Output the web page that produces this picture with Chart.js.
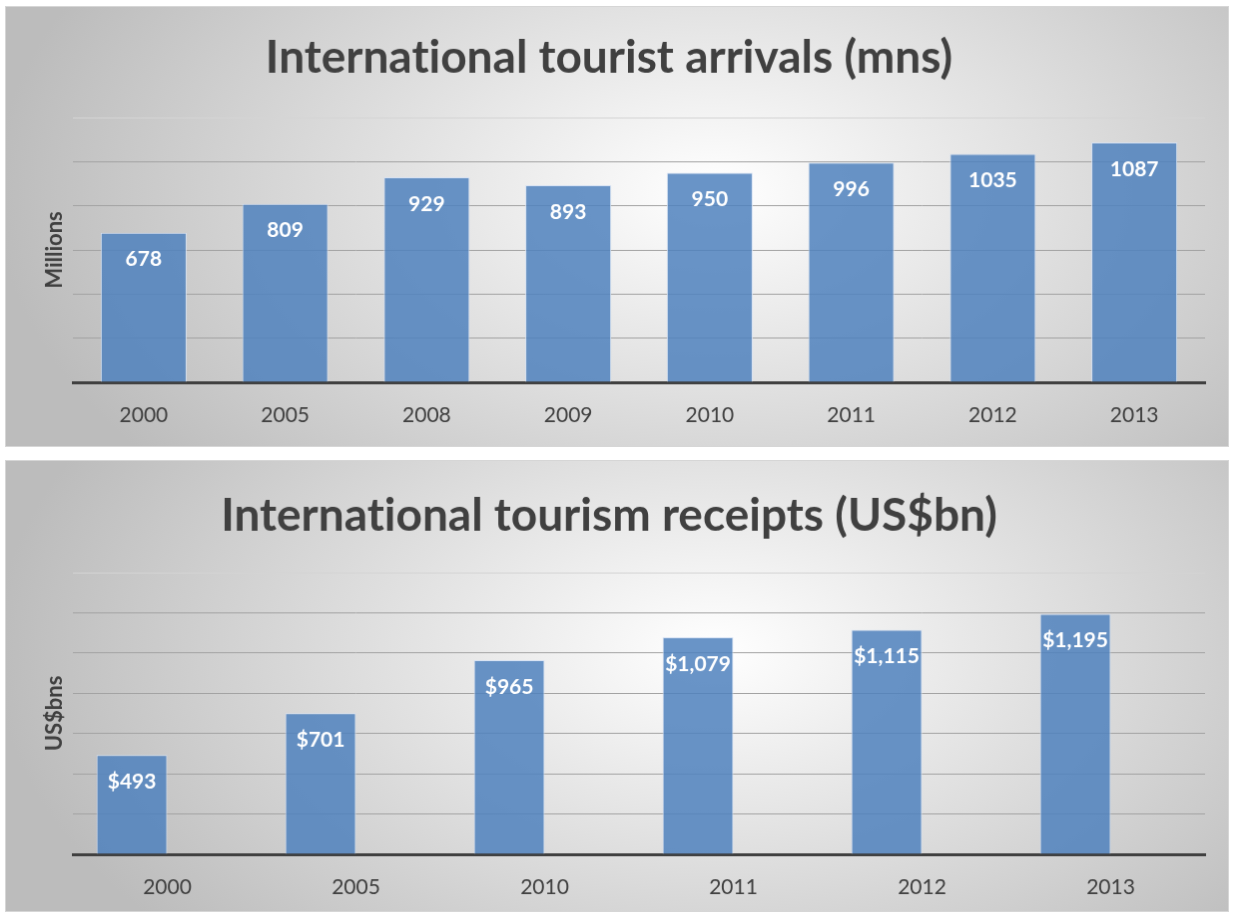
<!DOCTYPE html>
<html>
<head>
<meta charset="utf-8">
<script src="https://cdn.jsdelivr.net/npm/chart.js@4.4.0/dist/chart.umd.min.js"></script>
<style>
  body { margin: 0; background: #fff; width: 1233px; height: 913px; position: relative; overflow: hidden; }
  canvas {
    position: absolute; left: 5px; display: block;
    border: 1px solid #d6d6d6;
    background: radial-gradient(ellipse 720px 430px at 58% 42%, #ffffff 0%, #bcbcbc 100%);
  }
  #arrivalsChart { top: 6px; }
  #receiptsChart { top: 460px; }
</style>
</head>
<body>
<canvas id="arrivalsChart" width="1224" height="441"></canvas>
<canvas id="receiptsChart" width="1224" height="452"></canvas>
<script>
  // arrivals, millions
  const arrivalYears = ["2000", "2005", "2008", "2009", "2010", "2011", "2012", "2013"];
  const arrivals = [678, 809, 929, 893, 950, 996, 1035, 1087];

  // receipts, US$ bn (second series is empty in the original, it only shifts the bars)
  const receiptYears = ["2000", "2005", "2010", "2011", "2012", "2013"];
  const receipts = [493, 701, 965, 1079, 1115, 1195];
  const receiptsBlank = [null, null, null, null, null, null];

  const arrivalsMax = 1200;
  const receiptsMax = 1400;
  const gridStep = 200;

  Chart.defaults.font.family = "Lato, 'Open Sans', sans-serif";
  Chart.defaults.color = "#404040";

  const barFill = "rgba(79,129,189,0.85)";
  const barEdge = "rgba(214,226,243,0.95)";

  // white value labels just inside the top of each bar
  function valueLabels(fmt) {
    return {
      id: "valueLabels",
      afterDatasetsDraw(chart) {
        const ctx = chart.ctx;
        const meta = chart.getDatasetMeta(0);
        const values = chart.data.datasets[0].data;
        ctx.save();
        ctx.font = "bold 21px Lato, 'Open Sans', sans-serif";
        ctx.fillStyle = "#ffffff";
        ctx.textAlign = "center";
        ctx.textBaseline = "middle";
        meta.data.forEach((bar, i) => {
          ctx.fillText(fmt(values[i]), bar.x, bar.y + 27);
        });
        ctx.restore();
      },
    };
  }

  function yAxis(max, title) {
    return {
      min: 0,
      max: max,
      ticks: { display: false, stepSize: gridStep },
      border: { display: false },
      grid: {
        drawTicks: false,
        lineWidth: 1,
        color: (c) => (c.tick && c.tick.value === max ? "#d4d4d4" : "#a3a3a3"),
      },
      title: {
        display: true,
        text: title,
        color: "#404040",
        font: { size: 22, weight: "bold" },
        padding: { top: 29, bottom: 0 },
      },
      afterFit(scale) {
        scale.width = 60;
      },
    };
  }

  const xAxis = {
    grid: { display: false, drawTicks: false },
    border: { display: true, color: "#404040", width: 3 },
    ticks: { color: "#404040", font: { size: 21 }, padding: 21 },
    afterFit(scale) {
      scale.height = 46;
    },
  };

  // \u200C keeps Lato from joining "ti" into a ligature
  const arrivalsTitle = "Internat\u200Cional tourist arrivals (mns)";
  const receiptsTitle = "Internat\u200Cional tourism receipts (US$bn)";

  const arrivalsChart = new Chart(document.getElementById("arrivalsChart").getContext("2d"), {
    type: "bar",
    data: {
      labels: arrivalYears,
      datasets: [
        {
          label: "Arrivals",
          data: arrivals,
          backgroundColor: barFill,
          borderColor: barEdge,
          borderWidth: 1,
          categoryPercentage: 0.607,
          barPercentage: 1,
        },
      ],
    },
    options: {
      responsive: false,
      animation: false,
      layout: { padding: { left: 7, right: 23, top: 0, bottom: 18 } },
      plugins: {
        legend: { display: false },
        tooltip: { enabled: false },
        title: {
          display: true,
          text: arrivalsTitle,
          color: "#404040",
          font: { size: 46, weight: "bold", lineHeight: 1.2 },
          padding: { top: 23.4, bottom: 32.4 },
        },
      },
      scales: { x: xAxis, y: yAxis(arrivalsMax, "Millions") },
    },
    plugins: [valueLabels((v) => String(v))],
  });

  const receiptsChart = new Chart(document.getElementById("receiptsChart").getContext("2d"), {
    type: "bar",
    data: {
      labels: receiptYears,
      datasets: [
        {
          label: "Receipts",
          data: receipts,
          backgroundColor: barFill,
          borderColor: barEdge,
          borderWidth: 1,
          categoryPercentage: 0.75,
          barPercentage: 1,
        },
        {
          label: "",
          data: receiptsBlank,
          backgroundColor: barFill,
          categoryPercentage: 0.75,
          barPercentage: 1,
        },
      ],
    },
    options: {
      responsive: false,
      animation: false,
      layout: { padding: { left: 7, right: 23, top: 0, bottom: 11 } },
      plugins: {
        legend: { display: false },
        tooltip: { enabled: false },
        title: {
          display: true,
          text: receiptsTitle,
          color: "#404040",
          font: { size: 46, weight: "bold", lineHeight: 1.2 },
          padding: { top: 27.4, bottom: 29.4 },
        },
      },
      scales: { x: xAxis, y: yAxis(receiptsMax, "US$bns") },
    },
    plugins: [valueLabels((v) => "$" + v.toLocaleString("en-US"))],
  });
</script>
</body>
</html>
